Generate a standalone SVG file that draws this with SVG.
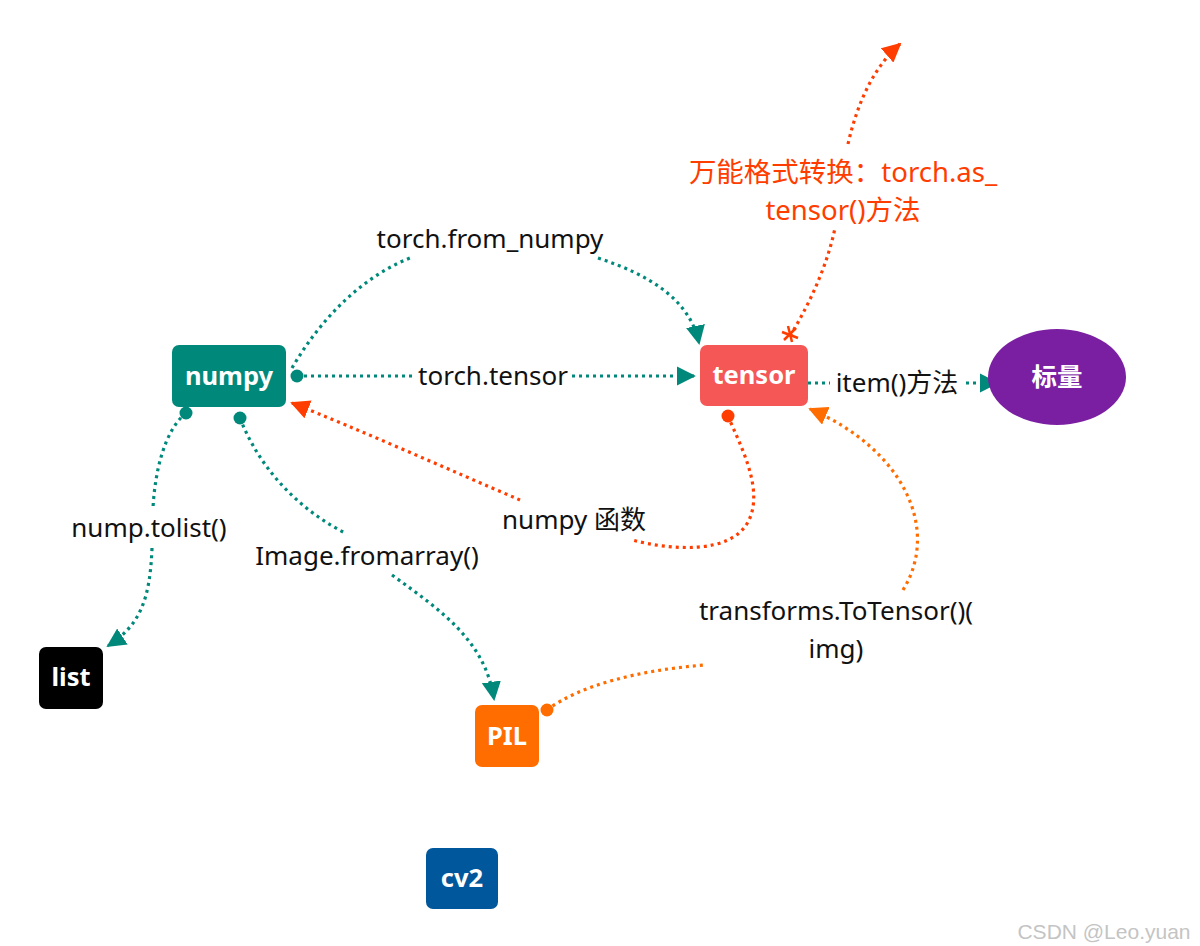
<svg xmlns="http://www.w3.org/2000/svg" width="1200" height="946" viewBox="0 0 1200 946">
<style>
.lbl{font-family:"Noto Sans","Noto Sans CJK SC",sans-serif;font-size:26px;fill:#111;text-anchor:middle}
.red{fill:#ff3d00;font-size:27.5px}
.nt{font-family:"Noto Sans","Noto Sans CJK SC",sans-serif;font-size:25.5px;font-weight:bold;fill:#fff;text-anchor:middle}
.c{fill:none;stroke-width:3.2;stroke-dasharray:3 4}
.teal{stroke:#00897b}
.rd{stroke:#ff3d00}
.or{stroke:#ff6d00}
</style>
<defs>
<marker id="at" viewBox="0 0 10 10" refX="9" refY="5" markerWidth="6" markerHeight="6" orient="auto" markerUnits="strokeWidth"><path d="M0 0L10 5L0 10Z" fill="#00897b"/></marker>
<marker id="ar" viewBox="0 0 10 10" refX="9" refY="5" markerWidth="6" markerHeight="6" orient="auto" markerUnits="strokeWidth"><path d="M0 0L10 5L0 10Z" fill="#ff3d00"/></marker>
<marker id="ao" viewBox="0 0 10 10" refX="9" refY="5" markerWidth="6" markerHeight="6" orient="auto" markerUnits="strokeWidth"><path d="M0 0L10 5L0 10Z" fill="#ff6d00"/></marker>
</defs>
<rect width="1200" height="946" fill="#fff"/>
<g id="connectors">
<path class="c teal" d="M292 368 C320 320 360 278 410 258"/>
<path class="c teal" d="M598 258 C650 275 690 300 699 343" marker-end="url(#at)"/>
<path class="c teal" d="M297 376 L414 376"/>
<path class="c teal" d="M572 376 L694 376" marker-end="url(#at)"/>
<path class="c teal" d="M801 383 L830 383"/>
<path class="c teal" d="M966 383 L997 383" marker-end="url(#at)"/>
<path class="c teal" d="M186 413 C165 430 155 470 153 508"/>
<path class="c teal" d="M152 548 C150 600 140 625 108 646" marker-end="url(#at)"/>
<path class="c teal" d="M240 418 C260 470 300 510 345 533"/>
<path class="c teal" d="M392 575 C440 610 485 640 494 699" marker-end="url(#at)"/>
<path class="c rd" d="M728 416 C740 445 765 490 748 522 C730 555 670 550 632 540"/>
<path class="c rd" d="M520 500 C450 470 360 430 292 403" marker-end="url(#ar)"/>
<path class="c rd" d="M790 336 C812 300 828 262 835 228"/>
<path class="c rd" d="M848 144 C858 100 875 66 900 44" marker-end="url(#ar)"/>
<path class="c or" d="M547 710 C580 685 640 670 705 665"/>
<path class="c or" d="M903 590 C940 530 905 450 810 409" marker-end="url(#ao)"/>
<circle cx="297" cy="376" r="6.5" fill="#00897b"/>
<circle cx="186" cy="413" r="6.5" fill="#00897b"/>
<circle cx="240" cy="418" r="6.5" fill="#00897b"/>
<circle cx="801" cy="383" r="6.5" fill="#00897b"/>
<circle cx="728" cy="416" r="6.5" fill="#ff3d00"/>
<circle cx="547" cy="710" r="6.5" fill="#ff6d00"/>
<path d="M784 340 L796 328 M782 332 L798 338 M788 326 L792 342" stroke="#ff3d00" stroke-width="2.5" fill="none"/>
</g>
<g id="labels">
<text class="lbl" x="490" y="248">torch.from_numpy</text>
<text class="lbl" x="493" y="385">torch.tensor</text>
<text class="lbl" x="897" y="392">item()方法</text>
<text class="lbl" x="149" y="537">nump.tolist()</text>
<text class="lbl" x="367" y="565">Image.fromarray()</text>
<text class="lbl" x="574" y="529">numpy 函数</text>
<text class="lbl" x="836" y="620">transforms.ToTensor()(</text>
<text class="lbl" x="836" y="658">img)</text>
<text class="lbl red" x="843" y="182">万能格式转换：torch.as_</text>
<text class="lbl red" x="843" y="220">tensor()方法</text>
</g>
<g id="numpy"><rect x="172" y="345" width="114" height="62" rx="7" fill="#00897b"/><text class="nt" x="229" y="385">numpy</text></g>
<g id="tensor"><rect x="700" y="345" width="108" height="61" rx="7" fill="#f55656"/><text class="nt" x="754" y="384">tensor</text></g>
<g id="scalar"><ellipse cx="1057" cy="377" rx="69" ry="48" fill="#7b1fa2"/><text class="nt" x="1057" y="386">标量</text></g>
<g id="list"><rect x="39" y="647" width="64" height="62" rx="7" fill="#000"/><text class="nt" x="71" y="686">list</text></g>
<g id="pil"><rect x="475" y="705" width="64" height="62" rx="7" fill="#ff6d00"/><text class="nt" x="507" y="745">PIL</text></g>
<g id="cv2"><rect x="426" y="848" width="72" height="61" rx="7" fill="#01579b"/><text class="nt" x="462" y="887">cv2</text></g>
<text x="1104" y="939" font-family="Liberation Sans,sans-serif" font-size="21" fill="#c4c4c4" text-anchor="middle">CSDN @Leo.yuan</text>
</svg>
